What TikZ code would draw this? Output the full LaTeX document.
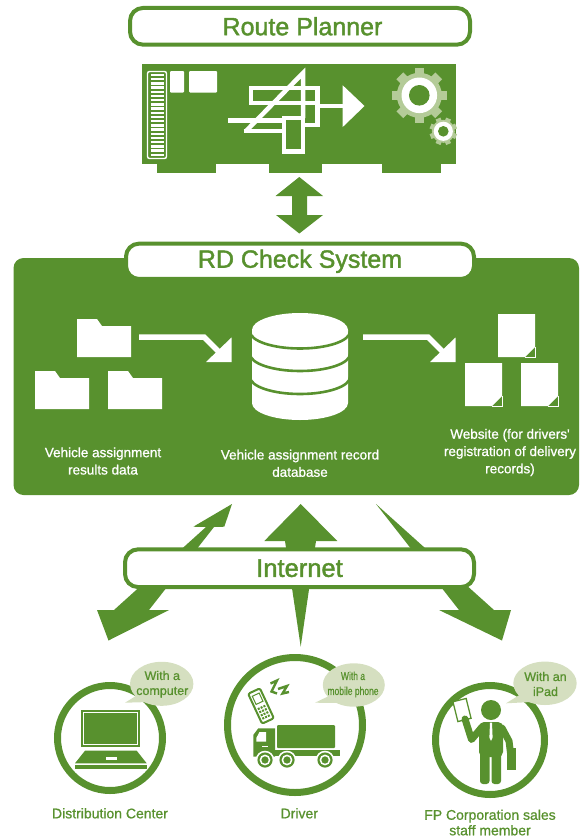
\documentclass[tikz,border=0pt]{standalone}
\usepackage{fontspec}
\setmainfont{Liberation Sans}
\newfontfamily\headfont{Liberation Sans}[FakeBold=1.6]
\newfontfamily\labelfont{Liberation Sans}[FakeBold=0.9]
\usepackage{graphicx}
\usetikzlibrary{calc}
\definecolor{leaf}{RGB}{88,145,46}
\definecolor{bubblefill}{RGB}{213,223,192}
\definecolor{gearlt}{RGB}{180,203,152}

% white folder icon, top-left corner at (#1,#2)
\newcommand\folderat[2]{%
  \fill[white] (#1,#2) -- ++(20,0) -- ++(5,7) -- ++(29,0) -- ++(0,31) -- ++(-54,0) -- cycle;}
% white page icon with a cut corner, top-left corner at (#1,#2)
\newcommand\pageat[2]{%
  \fill[white] (#1,#2) -- ++(37,0) -- ++(0,33) -- ++(-10,10) -- ++(-27,0) -- cycle;
  \draw[white, line width=0.8] (#1,#2) ++(27,43) -- ++(10,0) -- ++(0,-10);}

\begin{document}
\begin{tikzpicture}[x=1pt, y=-1pt,
  pill/.style={draw=leaf, line width=4pt, fill=white, rounded corners=13pt,
    text=leaf, inner sep=0pt},
  whitetext/.style={text=white, align=center, font=\labelfont\fontsize{13.5}{17.3}\selectfont},
  caption/.style={text=leaf, align=center, font=\labelfont\fontsize{14}{15.5}\selectfont},
  bubbletext/.style={text=leaf, align=center, font=\labelfont\fontsize{12.5}{15}\selectfont},
  route/.style={white, line width=4.5pt, line join=miter}]
\useasboundingbox (0,0) rectangle (580,838);

% ---------------- Route Planner ----------------
\node[pill, minimum width=340pt, minimum height=36.7pt,
  font=\headfont\fontsize{25}{25}\selectfont] (rp) at (300,26.3) {\hspace*{5pt}Route Planner};

% circuit board
\fill[leaf] (142,64) rectangle (456,164);
\fill[leaf] (157,164) rectangle (216,173);
\fill[leaf] (269,164) rectangle (322,173);
\fill[leaf] (382,164) rectangle (441,173);
% striped connector strip
\draw[white, line width=1.4, rounded corners=2] (147.5,71.5) rectangle (166.5,158.5);
\foreach \i in {0,...,19}
  \draw[white, line width=2.3] (150.5,{75+\i*4.2}) -- (163.5,{75+\i*4.2});
\fill[white, rounded corners=1] (170,71) rectangle (184,92.5);
\fill[white, rounded corners=1] (189,71) rectangle (217,92.5);
% route symbol
\draw[route] (251,88) rectangle (317.5,103);
\draw[route] (284,118) rectangle (303,151.5);
\draw[route] (228,120.5) -- (284,120.5);
\draw[route] (246,131) -- (303,73) -- (303,118);
\draw[route] (243.5,131) -- (286,131);
\draw[route] (317.5,103) -- (317.5,125) -- (303,125);
\draw[route] (317.5,106) -- (346,106);
\fill[white] (342.7,85.3) -- (364.5,106) -- (342.7,127) -- cycle;
% gears
\begin{scope}[shift={(419.3,95.3)}]
  \foreach \a in {0,45,...,315}
    \fill[gearlt, rotate=\a] (-4.8,0) rectangle (4.8,27.5);
  \fill[gearlt] (0,0) circle[radius=22.5];
  \fill[white] (0,0) circle[radius=17.8];
  \fill[leaf] (0,0) circle[radius=10.3];
\end{scope}
\begin{scope}[shift={(443.3,131.3)}]
  \foreach \a in {22.5,67.5,...,337.5}
    \fill[gearlt, rotate=\a] (-2.6,0) rectangle (2.6,13.8);
  \fill[gearlt] (0,0) circle[radius=11.5];
  \fill[white] (0,0) circle[radius=9.6];
  \fill[leaf] (0,0) circle[radius=5.3];
\end{scope}

% two-way link between the planner and the check system
\fill[leaf] (299.3,177) -- (323,196) -- (307,196) -- (307,215) -- (323,215)
  -- (299.3,233.5) -- (276,215) -- (292,215) -- (292,196) -- (275.5,196) -- cycle;

% ---------------- RD Check System ----------------
\fill[leaf, rounded corners=10pt] (13.5,258) rectangle (579,495);
\node[pill, minimum width=348pt, minimum height=35.3pt,
  font=\headfont\fontsize{25}{25}\selectfont] (rd) at (300,261.3) {RD Check System};

% result data folders
\folderat{77}{319}
\folderat{35}{371}
\folderat{108}{371}
% flow into the database
\draw[white, line width=5.5pt] (139,337) -- (204,337) -- (219,352);
\fill[white] (206,362) -- (231.5,362) -- (231.5,337.5) -- cycle;
% database cylinder
\fill[white] (252,330) -- (252,403)
  arc[start angle=180, end angle=0, x radius=48, y radius=17] -- (348,330)
  arc[start angle=0, end angle=-180, x radius=48, y radius=17] -- cycle;
\foreach \yc in {331.5,354,377}
  \draw[leaf, line width=2.6pt] (250,\yc)
    arc[start angle=180, end angle=0, x radius=50, y radius=17];
% flow out to the website
\draw[white, line width=5.5pt] (363,337) -- (428,337) -- (443,352);
\fill[white] (430,362) -- (455.5,362) -- (455.5,337.5) -- cycle;
% website pages
\pageat{498}{314}
\pageat{465}{363}
\pageat{521}{363}

\node[whitetext] (lbldata) at (103,461) {Vehicle assignment\\results data};
\node[whitetext] (lbldb) at (300,463.3) {Vehicle assignment record\\database};
\node[whitetext] (lblweb) at (510,452.5) {Website (for drivers'\\registration of delivery\\records)};

% ---------------- Internet links ----------------
\fill[leaf] (232,504) -- (224.3,526.7) -- (214,527) -- (149,610) -- (169,610)
  -- (108.5,640.5) -- (97,610) -- (114,610) -- (206,527) -- (193.3,526.7) -- cycle;
\fill[leaf] (300.7,504) -- (337.3,541) -- (316,541) -- (300.7,646.7)
  -- (285,541) -- (264.3,541) -- cycle;
\fill[leaf] (376,504) -- (494,610) -- (511,610) -- (502,640.5)
  -- (439,610) -- (459,610) -- cycle;
\node[pill, minimum width=349pt, minimum height=37.7pt,
  font=\headfont\fontsize{25.5}{25.5}\selectfont] (inet) at (299.5,568.2) {Internet};

% ---------------- Distribution Center ----------------
\draw[leaf, line width=7pt] (110,738) circle[radius=52.5];
% laptop
\fill[leaf] (81,710) rectangle (140,747.3);
\draw[white, line width=0.8] (83.5,712.5) rectangle (137.5,744.8);
\fill[leaf] (85,750.7) -- (136.7,750.7) -- (146.7,763.3) -- (75,763.3) -- cycle;
\fill[white] (106,757.3) rectangle (116.7,760.3);
\fill[leaf] (75,765) rectangle (146.7,769.3);
% speech bubble
\fill[bubblefill] (161.7,683.8) ellipse[x radius=31.7, y radius=22];
\fill[bubblefill] (139,694) -- (125,702.7) -- (149,702) -- cycle;
\node[bubbletext] (bdc) at (162.3,684.2) {With a\\computer};
\node[caption] (cdc) at (110,813.3) {Distribution Center};

% ---------------- Driver ----------------
\draw[leaf, line width=7pt] (295,725) circle[radius=67.5];
% truck
\fill[leaf] (253.3,735) -- (258.3,728.3) -- (275,728.3) -- (275,756.7) -- (253.3,756.7) -- cycle;
\fill[white] (256.3,738) -- (259.5,732) -- (266,732) -- (266,741.5) -- (256.3,741.5) -- cycle;
\draw[white, line width=0.9] (262,746) -- (268,746);
\fill[leaf, rounded corners=1] (277,725) rectangle (335,748);
\fill[leaf] (275,749.5) rectangle (340,755.5);
\foreach \wx in {265,287,325} {
  \fill[white] (\wx,760) circle[radius=9.3];
  \fill[leaf] (\wx,760) circle[radius=7.6];
  \draw[white, line width=1.5] (\wx,760) circle[radius=4.6];
}
% mobile phone
\begin{scope}[shift={(261,706)}, rotate=25]
  \fill[white, draw=leaf, line width=2, rounded corners=2] (-6.5,-16.5) rectangle (6.5,16.5);
  \draw[leaf, line width=1] (-3.8,-12.5) rectangle (3.8,-3.5);
  \foreach \i in {0,1,2}
    \foreach \j in {0,1,2,3}
      \fill[leaf] ({-4.2+\i*3.1},{0.5+\j*3.5}) rectangle ({-2.2+\i*3.1},{2.6+\j*3.5});
\end{scope}
\draw[leaf, line width=2.4, line join=miter] (270.5,683.5) -- (277,680.5) -- (271.5,691.5) -- (277,693.5);
\draw[leaf, line width=2.4, line join=miter] (278,689) -- (287,686) -- (282.5,693.5) -- (289,692);
% speech bubble
\fill[bubblefill] (353.8,685) ellipse[x radius=31, y radius=21.7];
\fill[bubblefill] (331,695) -- (315,702.7) -- (341,703) -- cycle;
\node[bubbletext, font=\labelfont\fontsize{11.5}{15}\selectfont] (bdr) at (353,684.5)
  {\scalebox{0.74}[1]{With a}\\\scalebox{0.74}[1]{mobile phone}};
\node[caption] (cdr) at (299.3,813.3) {Driver};

% ---------------- Sales staff member ----------------
\draw[leaf, line width=7pt] (490,740) circle[radius=54.5];
% person holding a tablet
\begin{scope}[shift={(462,710)}, rotate=14]
  \fill[white, draw=leaf, line width=1.3] (-6.8,-10.2) rectangle (6.8,10.2);
\end{scope}
\draw[leaf, line width=7, line cap=round, line join=round] (482,727) -- (471.5,739.5) -- (465,719);
\fill[leaf] (491,710) circle[radius=10];
\fill[leaf, rounded corners=5] (479,722) rectangle (503,757);
\fill[leaf, rounded corners=3] (480,750) rectangle (489.5,784);
\fill[leaf, rounded corners=3] (491.5,750) rectangle (501,784);
\draw[leaf, line width=7, line cap=round, line join=round] (502,728) -- (509,741) -- (511,757);
\fill[leaf] (507,748) rectangle (515.5,769.5);
\fill[white] (490,722.5) -- (492,722.5) -- (492.6,737.5) -- (491,741) -- (489.4,737.5) -- cycle;
% speech bubble
\fill[bubblefill] (545,683.3) ellipse[x radius=31.7, y radius=21.7];
\fill[bubblefill] (521,694) -- (506,703.3) -- (531,702) -- cycle;
\node[bubbletext] (bfp) at (545.5,684) {With an\\iPad};
\node[caption] (cfp) at (490,822.5) {FP Corporation sales\\staff member};
\end{tikzpicture}
\end{document}
